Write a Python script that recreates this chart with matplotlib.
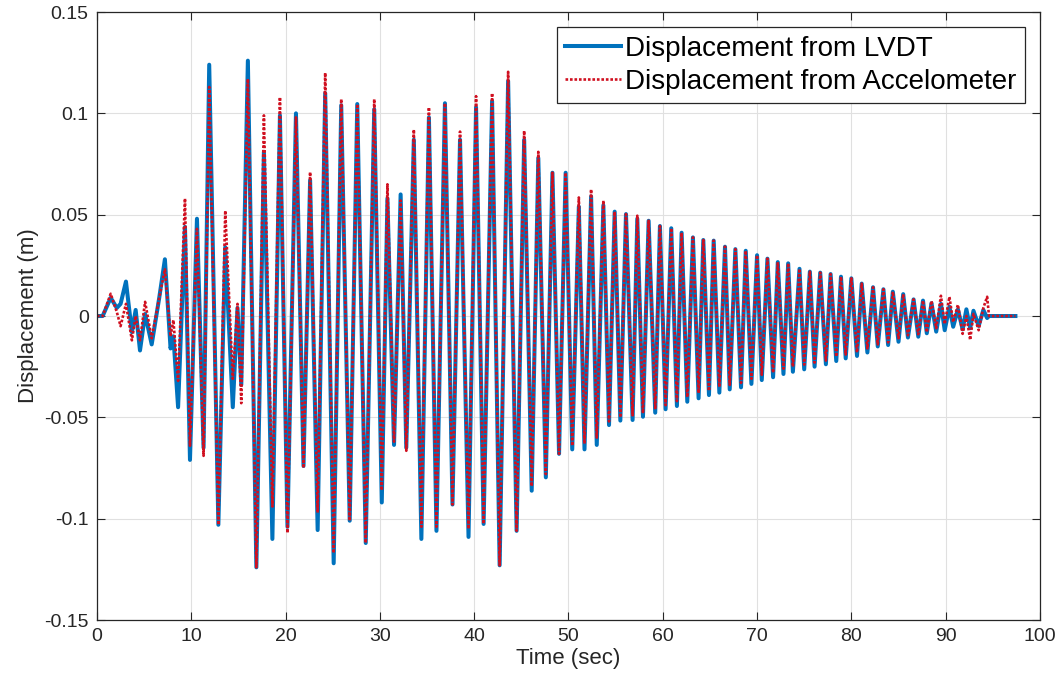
import matplotlib
matplotlib.use('Agg')
import matplotlib.pyplot as plt

# extrema of the two displacement records (time in s, displacement in m)
t_ext = [0.0, 0.6, 1.45, 2.1, 2.5, 3.07, 3.7, 4.1, 4.56, 5.1, 5.8, 6.6, 7.2, 7.8, 8.1, 8.6,
         9.33, 9.86, 10.6, 11.3, 11.9, 12.87, 13.6, 14.4, 14.9, 15.3, 16.0, 16.9, 17.7, 18.6,
         19.4, 20.2, 21.1, 21.9, 22.6, 23.4, 24.2, 25.1, 25.9, 26.8, 27.6, 28.5, 29.4, 30.2,
         30.8, 31.5, 32.2, 32.8, 33.6, 34.4, 35.2, 36.0, 36.9, 37.7, 38.5, 39.4, 40.2, 41.0,
         41.9, 42.7, 43.6, 44.5, 45.3, 46.1, 46.8, 47.6, 48.3, 49.0, 49.7, 50.4, 51.1, 51.7,
         52.4, 53.0, 53.7, 54.3, 54.9, 55.5, 56.1, 56.8, 57.3, 57.9, 58.5, 59.2, 59.7, 60.3,
         60.9, 61.5, 62.0, 62.6, 63.2, 63.8, 64.3, 64.9, 65.4, 66.0, 66.6, 67.1, 67.7, 68.3,
         68.8, 69.4, 70.0, 70.5, 71.1, 71.7, 72.2, 72.8, 73.3, 73.8, 74.5, 75.0, 75.6, 76.1,
         76.7, 77.3, 77.8, 78.4, 78.9, 79.4, 80.0, 80.6, 81.1, 81.7, 82.3, 82.8, 83.4, 83.9,
         84.4, 85.0, 85.5, 86.0, 86.6, 87.1, 87.6, 88.0, 88.5, 89.0, 89.5, 89.9, 90.4, 90.8,
         91.3, 91.8, 92.2, 92.6, 92.95, 93.5, 94.0, 94.4, 94.6, 97.4]

lvdt = [0.0, 0.0, 0.009, 0.004, 0.006, 0.017, -0.008, 0.003, -0.017, 0.001, -0.014, 0.009, 0.028,
        -0.016, -0.010, -0.045,
        0.044, -0.071, 0.048, -0.065, 0.124, -0.103, 0.034, -0.045, 0.004, -0.034, 0.126, -0.124,
        0.081, -0.110,
        0.099, -0.104, 0.100, -0.074, 0.067, -0.1056, 0.110, -0.122, 0.104, -0.101, 0.1046, -0.112,
        0.102, -0.092,
        0.058, -0.0636, 0.060, -0.065, 0.087, -0.110, 0.098, -0.106, 0.105, -0.093, 0.087, -0.109,
        0.103, -0.1026,
        0.106, -0.123, 0.116, -0.106, 0.087, -0.0862, 0.078, -0.0796, 0.0707, -0.068, 0.0707,
        -0.0658, 0.054, -0.0658,
        0.059, -0.0636, 0.0546, -0.0538, 0.0515, -0.0516, 0.0503, -0.0513, 0.048, -0.0497, 0.047,
        -0.0477, 0.0444, -0.046,
        0.0433, -0.0444, 0.0411, -0.0423, 0.0388, -0.0406, 0.0375, -0.039, 0.0372, -0.0378,
        0.0342, -0.0362, 0.033, -0.0352,
        0.0322, -0.0335, 0.030, -0.0316, 0.0283, -0.0302, 0.0266, -0.0286, 0.026, -0.0275,
        0.0233, -0.0263, 0.0219, -0.025,
        0.0214, -0.0238, 0.0207, -0.0222, 0.0194, -0.0209, 0.0186, -0.0197, 0.016, -0.018,
        0.0142, -0.015, 0.0132, -0.0143,
        0.012, -0.0127, 0.0108, -0.0106, 0.0082, -0.0102, 0.0076, -0.0085, 0.0063, -0.0077,
        0.006, -0.007, 0.0046, -0.0053,
        0.0033, -0.0066, 0.0033, -0.006, 0.0026, -0.0049, 0.003, -0.001, 0.0, 0.0]

accel = [0.0, 0.0, 0.011, 0.002, -0.005, 0.006, -0.012, 0.000, -0.012, 0.007, -0.011, 0.009, 0.023,
         -0.010, -0.002, -0.032,
         0.058, -0.064, 0.043, -0.069, 0.113, -0.103, 0.052, -0.031, 0.006, -0.043, 0.117, -0.124,
         0.099, -0.094,
         0.108, -0.107, 0.098, -0.075, 0.071, -0.097, 0.120, -0.117, 0.107, -0.101, 0.1046, -0.112,
         0.107, -0.086,
         0.065, -0.062, 0.057, -0.0665, 0.092, -0.104, 0.103, -0.104, 0.105, -0.093, 0.091, -0.105,
         0.1085, -0.1026,
         0.110, -0.123, 0.1205, -0.106, 0.0914, -0.084, 0.081, -0.078, 0.0707, -0.068, 0.0707,
         -0.064, 0.0585, -0.063,
         0.0625, -0.060, 0.057, -0.052, 0.0515, -0.050, 0.0503, -0.049, 0.0495, -0.048, 0.047,
         -0.046, 0.0444, -0.044,
         0.0433, -0.042, 0.0411, -0.040, 0.0388, -0.038, 0.0375, -0.037, 0.0372, -0.035,
         0.0342, -0.034, 0.033, -0.033,
         0.0322, -0.031, 0.030, -0.029, 0.0283, -0.028, 0.0266, -0.026, 0.026, -0.025,
         0.0233, -0.024, 0.0219, -0.023,
         0.0214, -0.022, 0.0207, -0.020, 0.0194, -0.019, 0.0186, -0.018, 0.016, -0.016,
         0.0142, -0.014, 0.0132, -0.013,
         0.012, -0.011, 0.0108, -0.0095, 0.0082, -0.009, 0.0076, -0.008, 0.0075, -0.006,
         0.010, -0.004, 0.0095, -0.003,
         0.0056, -0.0088, 0.000, -0.0118, 0.001, -0.007, 0.004, 0.0095, 0.0, 0.0]

x_ticks = [0, 10, 20, 30, 40, 50, 60, 70, 80, 90, 100]
y_ticks = [-0.15, -0.1, -0.05, 0, 0.05, 0.1, 0.15]
y_tick_labels = ['-0.15', '-0.1', '-0.05', '0', '0.05', '0.1', '0.15']

plt.rcParams['font.family'] = ['Liberation Sans', 'DejaVu Sans']

fig = plt.figure(figsize=(10.59, 6.87), dpi=100)
ax = fig.add_axes([0.0916, 0.0975, 0.8904, 0.885])

ax.plot(t_ext, lvdt, color='#0072BD', lw=2.9, label='Displacement from LVDT')
ax.plot(t_ext, accel, color='#D01020', lw=1.9, ls=(0, (1, 0.7)), label='Displacement from Accelometer')

ax.set_xlim(0, 100)
ax.set_ylim(-0.15, 0.15)
ax.set_xticks(x_ticks)
ax.set_yticks(y_ticks)
ax.set_yticklabels(y_tick_labels)
ax.tick_params(direction='in', length=6, width=0.8, labelsize=14, top=True, right=True,
               colors='#262626', pad=6)
ax.grid(True, color='#e0e0e0', lw=0.8)
ax.set_axisbelow(True)
for s in ax.spines.values():
    s.set_color('#262626')
    s.set_linewidth(0.9)

ax.set_xlabel('Time (sec)', fontsize=16, color='#262626', labelpad=2)
ax.set_ylabel('Displacement (m)', fontsize=16, color='#262626', labelpad=4)

leg = ax.legend(loc='upper right', fontsize=20, handlelength=2.0, handletextpad=0.15,
                borderpad=0.3, labelspacing=0.25, fancybox=False, framealpha=1,
                borderaxespad=0.55)
leg.get_frame().set_edgecolor('#262626')
leg.get_frame().set_linewidth(0.9)

fig.savefig('out.png', dpi=100)
